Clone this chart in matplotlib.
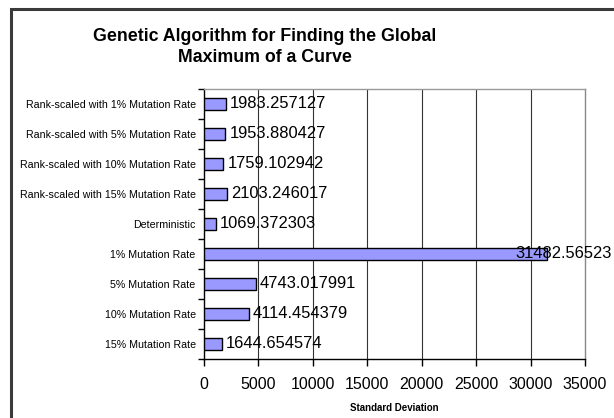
import matplotlib
matplotlib.use("Agg")
import matplotlib.pyplot as plt
from matplotlib.patches import Rectangle

categories = [
    "Rank-scaled with 1% Mutation Rate",
    "Rank-scaled with 5% Mutation Rate",
    "Rank-scaled with 10% Mutation Rate",
    "Rank-scaled with 15% Mutation Rate",
    "Deterministic",
    "1% Mutation Rate",
    "5% Mutation Rate",
    "10% Mutation Rate",
    "15% Mutation Rate",
]
values = [1983.257127, 1953.880427, 1759.102942, 2103.246017, 1069.372303,
          31482.56523, 4743.017991, 4114.454379, 1644.654574]
value_labels = ["1983.257127", "1953.880427", "1759.102942", "2103.246017", "1069.372303",
                "31482.56523", "4743.017991", "4114.454379", "1644.654574"]
xticks = [0, 5000, 10000, 15000, 20000, 25000, 30000, 35000]

plt.rcParams['font.family'] = ['Liberation Sans', 'DejaVu Sans']

W, H = 614, 418
fig = plt.figure(figsize=(W / 100, H / 100), dpi=100)

# chart border
fig.patches.append(Rectangle((10.5 / W, -0.1), 1.2, (H - 9.5) / H + 0.1,
                             transform=fig.transFigure, fill=False,
                             edgecolor='#3a3a3a', linewidth=2.2))

ax = fig.add_axes([204 / W, 1 - 359 / H, (585 - 204) / W, (359 - 89) / H])

ypos = list(range(len(categories)))
ax.barh(ypos, values, height=0.4, color='#9999FF', edgecolor='black', linewidth=1.0, zorder=3)
ax.set_ylim(len(categories) - 0.5, -0.5)
ax.set_xlim(0, 35000)

ax.set_xticks(xticks)
ax.set_xticklabels([str(t) for t in xticks], fontsize=11.5)
ax.set_yticks(ypos)
ax.set_yticklabels(categories, fontsize=7.7)
ax.tick_params(axis='y', length=0, pad=6)
ax.tick_params(axis='x', length=5, width=1, direction='out', pad=8, color='black')
# category-boundary ticks on y axis
ax.set_yticks([i - 0.5 for i in range(len(categories) + 1)], minor=True)
ax.tick_params(axis='y', which='minor', length=4, width=1, direction='out', color='black')

for x in xticks[1:-1]:
    ax.axvline(x, color='#333333', linewidth=0.8, zorder=1)

ax.spines['left'].set_color('black')
ax.spines['bottom'].set_color('black')
ax.spines['left'].set_linewidth(1.0)
ax.spines['bottom'].set_linewidth(1.0)
ax.spines['top'].set_color('#999999')
ax.spines['right'].set_color('#888888')
ax.spines['top'].set_linewidth(1.0)
ax.spines['right'].set_linewidth(1.0)

ax.set_xlabel("Standard Deviation", fontsize=7, fontweight='bold', labelpad=8)

texts = []
for y, v, lab in zip(ypos, values, value_labels):
    t = ax.annotate(lab, xy=(v, y), xytext=(3, 0), textcoords='offset points',
                    ha='left', va='center', fontsize=11.9, zorder=4, annotation_clip=False)
    texts.append(t)

fig.text(265 / W, 1 - 47 / H, "Genetic Algorithm for Finding the Global\nMaximum of a Curve",
         ha='center', va='center', fontsize=12.8, fontweight='bold', linespacing=1.35)

# keep value labels inside the chart area
fig.canvas.draw()
r = fig.canvas.get_renderer()
for t in texts:
    bb = t.get_window_extent(r)
    if bb.x1 > W - 2:
        shift = bb.x1 - (W - 2)
        t.xyann = (3 - shift * 72 / 100, 0)

fig.savefig("out.png", dpi=100)
